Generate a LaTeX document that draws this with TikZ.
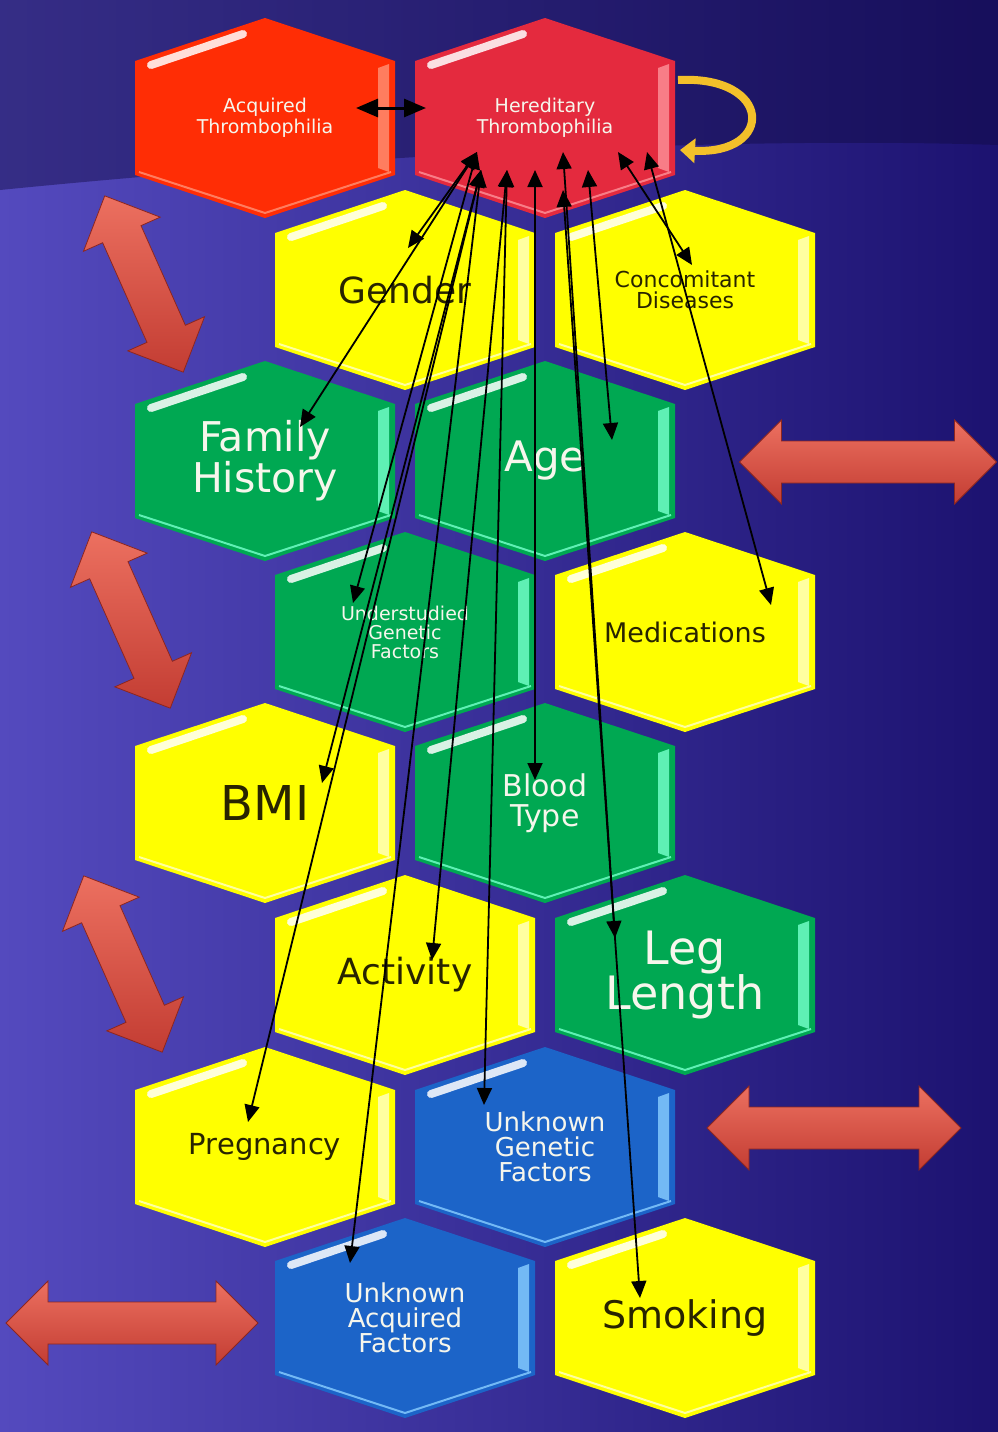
\documentclass[tikz,border=0pt]{standalone}
\usepackage{fontspec}
\setmainfont{DejaVu Sans}
\usetikzlibrary{arrows.meta}

\definecolor{bgleft}{RGB}{84,74,190}
\definecolor{bgright}{RGB}{28,18,112}
\definecolor{acqred}{RGB}{255,45,5}
\definecolor{acqlight}{RGB}{255,125,95}
\definecolor{herred}{RGB}{228,42,62}
\definecolor{herlight}{RGB}{248,125,135}
\definecolor{hexyellow}{RGB}{255,255,0}
\definecolor{yellowlight}{RGB}{255,255,160}
\definecolor{hexgreen}{RGB}{0,168,82}
\definecolor{greenlight}{RGB}{95,240,180}
\definecolor{hexblue}{RGB}{28,100,200}
\definecolor{bluelight}{RGB}{115,185,245}
\definecolor{fatred}{RGB}{212,66,55}
\definecolor{fatlight}{RGB}{236,112,96}
\definecolor{fatedge}{RGB}{140,38,32}
\definecolor{loopgold}{RGB}{243,192,42}
\definecolor{darktext}{RGB}{40,36,0}
\definecolor{lighttext}{RGB}{246,246,236}

\newcommand{\fsz}[2]{\fontsize{#1}{#2}\selectfont}

\tikzset{
    pics/hexcell/.style 2 args={code={
        \fill[#1] (0,-100) -- (130,-57) -- (130,57) -- (0,100) -- (-130,57) -- (-130,-57) -- cycle;
        \fill[#2] (113,-50) -- (124,-54) -- (124,54) -- (113,50) -- cycle;
        \draw[#2, line width=2pt] (-126,54) -- (0,95) -- (126,54);
        \draw[white, opacity=.85, line width=8pt, line cap=round] (-114,-53) -- (-22,-84);
    }},
    pics/fatarrow/.style={code={
        \pgfmathsetmacro\hl{#1/2}
        \pgfmathsetmacro\hb{#1/2-42}
        \shade[top color=fatlight, bottom color=fatred!92!black, draw=fatedge, line width=.8pt]
            (-\hl,0) -- (-\hb,-42) -- (-\hb,-21) -- (\hb,-21) -- (\hb,-42) -- (\hl,0)
            -- (\hb,42) -- (\hb,21) -- (-\hb,21) -- (-\hb,42) -- cycle;
    }},
    lbl/.style={align=center, inner sep=0pt},
    onlight/.style={lbl, text=darktext},
    ondark/.style={lbl, text=lighttext},
    link/.style={<->, >={Triangle[width=15pt,length=17pt]}, line width=1.8pt, black},
}

\begin{document}
\begin{tikzpicture}[x=1pt,y=-1pt]
    \useasboundingbox (0,0) rectangle (998,1432);
    % background
    \shade[left color=bgleft, right color=bgright] (0,0) rectangle (998,1432);
    \fill[bgright!60!black, opacity=.45] (0,0) -- (998,0) -- (998,145) .. controls (700,135) and (300,160) .. (0,190) -- cycle;

    % big red arrows
    \pic[rotate=-66] at (144,284) {fatarrow=193};
    \pic[rotate=-66] at (131,620) {fatarrow=193};
    \pic[rotate=-66] at (123,964) {fatarrow=193};
    \pic at (868,462) {fatarrow=257};
    \pic at (834,1128) {fatarrow=254};
    \pic at (132,1323) {fatarrow=252};

    % hexagons
    \pic at (265,118) {hexcell={acqred}{acqlight}};
    \pic at (545,118) {hexcell={herred}{herlight}};
    \pic at (405,290) {hexcell={hexyellow}{yellowlight}};
    \pic at (685,290) {hexcell={hexyellow}{yellowlight}};
    \pic at (265,461) {hexcell={hexgreen}{greenlight}};
    \pic at (545,461) {hexcell={hexgreen}{greenlight}};
    \pic at (405,632) {hexcell={hexgreen}{greenlight}};
    \pic at (685,632) {hexcell={hexyellow}{yellowlight}};
    \pic at (265,803) {hexcell={hexyellow}{yellowlight}};
    \pic at (545,803) {hexcell={hexgreen}{greenlight}};
    \pic at (405,975) {hexcell={hexyellow}{yellowlight}};
    \pic at (685,975) {hexcell={hexgreen}{greenlight}};
    \pic at (265,1147) {hexcell={hexyellow}{yellowlight}};
    \pic at (545,1147) {hexcell={hexblue}{bluelight}};
    \pic at (405,1318) {hexcell={hexblue}{bluelight}};
    \pic at (685,1318) {hexcell={hexyellow}{yellowlight}};

    % labels
    \node[ondark, font=\fsz{19}{21}] (acquired) at (265,118) {Acquired\\Thrombophilia};
    \node[ondark, font=\fsz{19}{21}] (hereditary) at (545,118) {Hereditary\\Thrombophilia};
    \node[onlight, font=\fsz{36}{36}] (gender) at (405,290) {Gender};
    \node[onlight, font=\fsz{22}{21}] (concomitant) at (685,290) {Concomitant\\Diseases};
    \node[ondark, font=\fsz{41}{39}] (family) at (265,461) {Family\\History};
    \node[ondark, font=\fsz{42}{42}] (age) at (545,461) {Age};
    \node[ondark, font=\fsz{19}{19}] (understudied) at (405,632) {Understudied\\Genetic\\Factors};
    \node[onlight, font=\fsz{27}{27}] (medications) at (685,632) {Medications};
    \node[onlight, font=\fsz{48}{48}] (bmi) at (265,803) {BMI};
    \node[ondark, font=\fsz{30}{30}] (blood) at (545,803) {Blood\\Type};
    \node[onlight, font=\fsz{36}{36}] (activity) at (405,975) {Activity};
    \node[ondark, font=\fsz{46}{42}] (leg) at (685,975) {Leg\\Length};
    \node[onlight, font=\fsz{29}{29}] (pregnancy) at (265,1147) {Pregnancy};
    \node[ondark, font=\fsz{26}{25}] (unkgen) at (545,1147) {Unknown\\Genetic\\Factors};
    \node[ondark, font=\fsz{26}{25}] (unkacq) at (405,1318) {Unknown\\Acquired\\Factors};
    \node[onlight, font=\fsz{38}{38}] (smoking) at (685,1318) {Smoking};

    % links to hereditary thrombophilia
    \draw[<->, >={Triangle[width=18pt,length=22pt]}, line width=3pt]
        ([shift={(91,-10)}]acquired.center) -- ([shift={(-119,-10)}]hereditary.center);
    \draw[link] ([shift={(-68,34)}]hereditary.center) -- ([shift={(3,-42)}]gender.center);
    \draw[link] ([shift={(-68,34)}]hereditary.center) -- ([shift={(35,-34)}]family.center);
    \draw[link] ([shift={(-68,34)}]hereditary.center) -- ([shift={(-52,-29)}]understudied.center);
    \draw[link] ([shift={(-64,52)}]hereditary.center) -- ([shift={(57,-20)}]bmi.center);
    \draw[link] ([shift={(-64,52)}]hereditary.center) -- ([shift={(-17,-25)}]pregnancy.center);
    \draw[link] ([shift={(-64,52)}]hereditary.center) -- ([shift={(-55,-55)}]unkacq.center);
    \draw[link] ([shift={(-38,52)}]hereditary.center) -- ([shift={(27,-15)}]activity.center);
    \draw[link] ([shift={(-38,52)}]hereditary.center) -- ([shift={(-61,-42)}]unkgen.center);
    \draw[link] ([shift={(-10,52)}]hereditary.center) -- ([shift={(-10,-23)}]blood.center);
    \draw[link] ([shift={(18,34)}]hereditary.center) -- ([shift={(-70,-37)}]leg.center);
    \draw[link] ([shift={(18,72)}]hereditary.center) -- ([shift={(-45,-20)}]smoking.center);
    \draw[link] ([shift={(43,52)}]hereditary.center) -- ([shift={(67,-21)}]age.center);
    \draw[link] ([shift={(73,34)}]hereditary.center) -- ([shift={(7,-25)}]concomitant.center);
    \draw[link] ([shift={(102,34)}]hereditary.center) -- ([shift={(86,-27)}]medications.center);

    % self loop
    \draw[loopgold, line width=8pt, -{Triangle[width=24pt,length=15pt]}]
        ([shift={(133,-38)}]hereditary.center) .. controls +(95,-5) and +(95,5) .. ([shift={(135,32)}]hereditary.center);
\end{tikzpicture}
\end{document}
